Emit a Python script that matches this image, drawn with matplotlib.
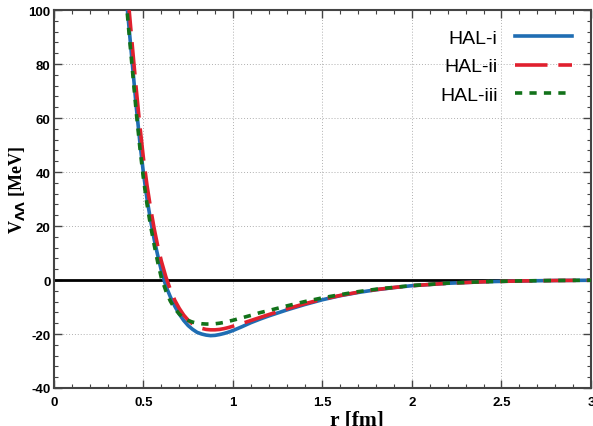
import matplotlib
matplotlib.use("Agg")
import matplotlib.pyplot as plt
from matplotlib.ticker import MultipleLocator

plt.rcParams["axes.unicode_minus"] = False

# r grid [fm] and potentials [MeV]
r = [0.40, 0.42, 0.44, 0.46, 0.48, 0.50, 0.52, 0.54, 0.56, 0.58, 0.60,
     0.625, 0.65, 0.675, 0.70, 0.725, 0.75, 0.775, 0.80, 0.825, 0.85, 0.875,
     0.90, 0.925, 0.95, 0.975, 1.00, 1.05, 1.10, 1.15, 1.20, 1.30, 1.40,
     1.50, 1.60, 1.70, 1.80, 1.90, 2.00, 2.20, 2.40, 2.60, 2.80, 3.00]
v_hal_i = [108, 93, 78.5, 64, 51, 39.5, 30, 22, 15, 9, 3.5,
           -2.2, -6.2, -9.7, -12.6, -15.0, -16.9, -18.3, -19.4, -20.0, -20.4, -20.6,
           -20.5, -20.2, -19.8, -19.3, -18.7, -17.3, -15.8, -14.5, -13.3, -11.1, -9.1,
           -7.3, -5.8, -4.6, -3.6, -2.8, -2.1, -1.2, -0.65, -0.35, -0.18, -0.09]
v_hal_ii = [115, 100, 85, 70.5, 57, 45, 35, 26.5, 19, 12.5, 7.0,
            1.2, -3.5, -7.5, -10.5, -13.0, -14.9, -16.3, -17.3, -17.9, -18.3, -18.45,
            -18.45, -18.3, -18.0, -17.6, -17.1, -16.1, -15.0, -13.9, -12.8, -10.7, -8.8,
            -7.1, -5.7, -4.5, -3.55, -2.75, -2.1, -1.2, -0.65, -0.35, -0.18, -0.09]
v_hal_iii = [106, 91, 76.5, 62, 49, 37.5, 28, 20, 13, 6.5, 0.8,
             -4.0, -7.8, -10.6, -12.6, -14.0, -15.0, -15.6, -16.0, -16.2, -16.3, -16.3,
             -16.2, -16.0, -15.7, -15.3, -14.9, -14.0, -13.1, -12.1, -11.3, -9.6, -8.0,
             -6.6, -5.4, -4.3, -3.4, -2.7, -2.05, -1.15, -0.62, -0.33, -0.17, -0.08]

fig = plt.figure(figsize=(5.93, 4.27), dpi=100)
ax = fig.add_axes([0.091, 0.089, 0.9056, 0.885])
ax.set_axisbelow(True)

ax.axhline(0, color="black", lw=2, zorder=1)
ax.plot(r, v_hal_i, color="#1f6db3", lw=2.6, label="HAL-i", zorder=3)
ax.plot(r, v_hal_ii, color="#e0202e", lw=2.6, dashes=(9, 3), label="HAL-ii", zorder=4)
ax.plot(r, v_hal_iii, color="#12721a", lw=2.6, dashes=(2, 2), label="HAL-iii", zorder=5)

ax.set_xlim(0, 3)
ax.set_ylim(-40, 100)
ax.xaxis.set_major_locator(MultipleLocator(0.5))
ax.xaxis.set_minor_locator(MultipleLocator(0.1))
ax.yaxis.set_major_locator(MultipleLocator(20))
ax.yaxis.set_minor_locator(MultipleLocator(4))
ax.set_xticks([0, 0.5, 1, 1.5, 2, 2.5, 3])
ax.set_xticklabels(["0", "0.5", "1", "1.5", "2", "2.5", "3"])
ax.tick_params(which="both", direction="in", top=True, right=True, color="#444444")
ax.tick_params(which="major", length=6, width=1)
ax.tick_params(which="minor", length=3, width=0.8)
ax.tick_params(axis="x", pad=6)
ax.tick_params(axis="y", pad=2.5)
for lab in ax.get_xticklabels() + ax.get_yticklabels():
    lab.set_fontfamily("Liberation Sans")
    lab.set_fontweight("bold")
    lab.set_fontsize(9.5)
for s in ax.spines.values():
    s.set_color("#444444")
    s.set_linewidth(1.5)

ax.grid(True, which="major", color="#b0b0b0", lw=0.7, ls=(0, (1, 2)))

ax.set_xlabel("r [fm]", fontfamily="Liberation Serif", fontweight="bold",
              fontsize=15.5, va="top")
ax.xaxis.set_label_coords(0.564, -0.058)
ax.set_ylabel(r"V$_{\mathbf{\Lambda\Lambda}}$ [MeV]", fontfamily="Liberation Serif",
              fontweight="bold", fontsize=13)
ax.yaxis.set_label_coords(-0.05, 0.526)

ax.legend(loc="upper right", frameon=False, markerfirst=False,
          prop={"family": "Liberation Sans", "size": 14},
          handlelength=2.9, labelspacing=0.55, borderaxespad=0.6,
          handletextpad=0.9)

fig.savefig("out.png", dpi=100)
